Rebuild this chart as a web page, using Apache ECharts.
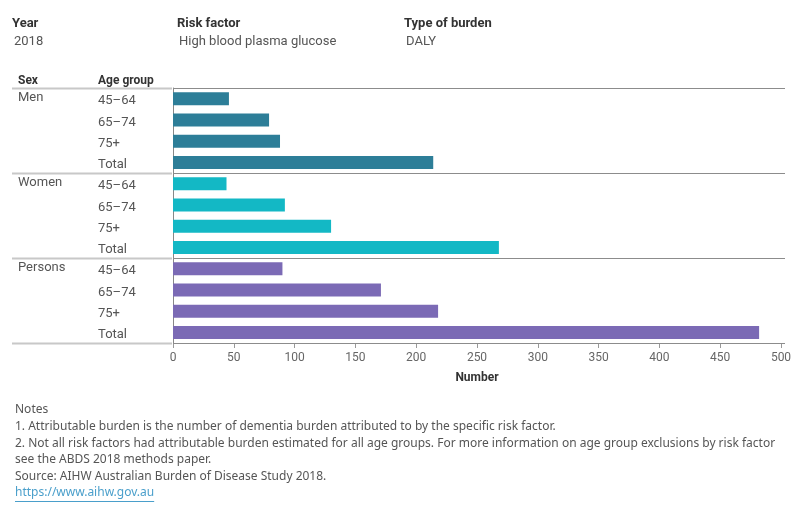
<!DOCTYPE html>
<html>
<head>
<meta charset="utf-8">
<script src="https://cdn.jsdelivr.net/npm/echarts@6/dist/echarts.min.js"></script>
<style>
  html, body { margin: 0; padding: 0; background: #fff; }
  #root { width: 800px; height: 520px; }
</style>
</head>
<body>
<div id="root"></div>
<script>
var sexes = ['Men', 'Women', 'Persons'];
var ageGroups = ['45–64', '65–74', '75+', 'Total'];
var menValues = [46, 79, 88, 214];
var womenValues = [44, 92, 130, 268];
var personsValues = [90, 171, 218, 482];
var xTicks = [0, 500, 50];
var notes = [
  'Notes',
  '1. Attributable burden is the number of dementia burden attributed to by the specific risk factor.',
  '2. Not all risk factors had attributable burden estimated for all age groups. For more information on age group exclusions by risk factor',
  'see the ABDS 2018 methods paper.',
  'Source: AIHW Australian Burden of Disease Study 2018.'
];
var link = 'https://www.aihw.gov.au';

(function () {
  var font = 'Roboto, "Noto Sans", sans-serif';
  var noteFont = '"Noto Sans", Roboto, sans-serif';
  var colors = ['#2d7e98', '#13b8c5', '#7b6ab5'];
  var values = [menValues, womenValues, personsValues];

  var categories = [];
  var data = [];
  sexes.forEach(function (sex, s) {
    ageGroups.forEach(function (age, a) {
      categories.push(sex + '|' + age);
      data.push({ value: values[s][a], itemStyle: { color: colors[s] } });
    });
  });

  var chart = echarts.init(document.getElementById('root'));

  var option = {
    animation: false,
    textStyle: { fontFamily: font },
    grid: { left: 173, right: 19, top: 88, bottom: 177 },
    xAxis: {
      type: 'value',
      min: xTicks[0],
      max: xTicks[1],
      interval: xTicks[2],
      axisLine: { show: false },
      axisTick: { show: true, length: 5, lineStyle: { color: '#999' } },
      splitLine: { show: false },
      axisLabel: { color: '#666', fontSize: 12, margin: 9, fontFamily: font },
      name: 'Number',
      nameLocation: 'middle',
      nameGap: 29,
      nameTextStyle: { color: '#333', fontWeight: 'bold', fontSize: 12, fontFamily: font }
    },
    yAxis: {
      type: 'category',
      inverse: true,
      data: categories,
      axisLine: { show: true, lineStyle: { color: '#888' } },
      axisTick: { show: false },
      axisLabel: {
        align: 'left',
        margin: 155,
        formatter: function (v, i) {
          var parts = v.split('|');
          var sex = i % 4 === 0 ? parts[0] : '';
          return '{sex|' + sex + '}{age|' + parts[1] + '}';
        },
        rich: {
          sex: { width: 80, color: '#555', fontSize: 13, fontFamily: font, padding: [0, 0, 1, 0] },
          age: { color: '#555', fontSize: 13, fontFamily: font, padding: [5, 0, 0, 0] }
        }
      }
    },
    series: [{
      type: 'bar',
      data: data,
      barWidth: 13
    }]
  };
  chart.setOption(option);

  // separator lines at group boundaries
  var y0 = chart.convertToPixel({ yAxisIndex: 0 }, 0);
  var y1 = chart.convertToPixel({ yAxisIndex: 0 }, 1);
  var band = y1 - y0;
  var graphics = [];
  for (var g = 0; g <= sexes.length; g++) {
    var y = Math.round(y0 - band / 2 + g * 4 * band) + 0.5;
    graphics.push({ type: 'line', shape: { x1: 12, y1: y, x2: 172, y2: y }, style: { stroke: '#c8c8c8', lineWidth: 2 }, z: 10 });
    graphics.push({ type: 'line', shape: { x1: 173, y1: y, x2: 785, y2: y }, style: { stroke: '#8c8c8c', lineWidth: 1 }, z: 10 });
  }

  // header texts
  var headers = [['Year', '2018', 12], ['Risk factor', 'High blood plasma glucose', 177], ['Type of burden', 'DALY', 404]];
  headers.forEach(function (h) {
    graphics.push({ type: 'text', left: h[2], top: 17, style: { text: h[0], fill: '#333', font: 'bold 13px ' + font } });
    graphics.push({ type: 'text', left: h[2] + 2, top: 35, style: { text: h[1], fill: '#555', font: '13px ' + font } });
  });
  graphics.push({ type: 'text', left: 18, top: 75, style: { text: 'Sex', fill: '#333', font: 'bold 12px ' + font } });
  graphics.push({ type: 'text', left: 98, top: 75, style: { text: 'Age group', fill: '#333', font: 'bold 12px ' + font } });

  // notes
  var notesTop = 404;
  notes.forEach(function (n, i) {
    graphics.push({ type: 'text', left: 15, top: notesTop + i * 16.6, style: { text: n, fill: '#555', font: '12px ' + noteFont } });
  });
  var linkTop = notesTop + notes.length * 16.6;
  graphics.push({ type: 'text', left: 15, top: linkTop, style: { text: link, fill: '#4a9fcb', font: '12px ' + noteFont } });
  var ctx = document.createElement('canvas').getContext('2d');
  ctx.font = '12px ' + noteFont;
  var lw = ctx.measureText(link).width;
  var uy = Math.round(linkTop + 14) + 0.5;
  graphics.push({ type: 'line', shape: { x1: 15, y1: uy, x2: 15 + lw, y2: uy }, style: { stroke: '#4a9fcb', lineWidth: 1 } });

  chart.setOption({ graphic: graphics });
})();
</script>
</body>
</html>
